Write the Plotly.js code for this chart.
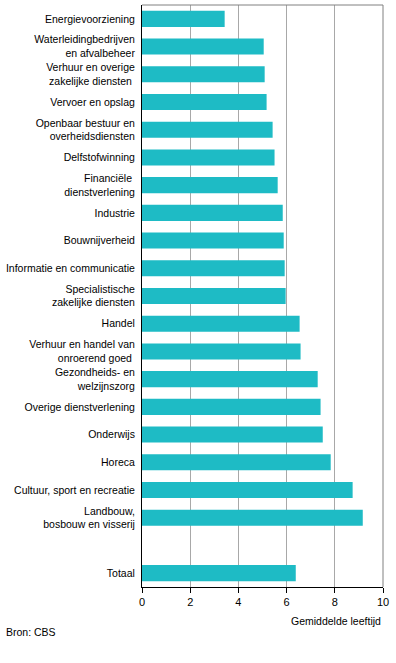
<!DOCTYPE html>
<html><head><meta charset="utf-8">
<script src="https://cdn.plot.ly/plotly-3.0.1.min.js"></script>
<style>html,body{margin:0;padding:0;background:#fff}#chart{width:396px;height:663px}</style>
</head><body><div id="chart"></div>
<script>
const categories = [
  "Energievoorziening",
  "Waterleidingbedrijven<br>en afvalbeheer",
  "Verhuur en overige<br>zakelijke diensten ",
  "Vervoer en opslag",
  "Openbaar bestuur en<br>overheidsdiensten",
  "Delfstofwinning",
  "Financiële <br>dienstverlening",
  "Industrie",
  "Bouwnijverheid",
  "Informatie en communicatie",
  "Specialistische<br>zakelijke diensten",
  "Handel",
  "Verhuur en handel van<br>onroerend goed ",
  "Gezondheids- en<br>welzijnszorg",
  "Overige dienstverlening",
  "Onderwijs",
  "Horeca",
  "Cultuur, sport en recreatie",
  "Landbouw,<br>bosbouw en visserij",
  " ",
  "Totaal"
];
const values = [3.43, 5.05, 5.09, 5.17, 5.42, 5.50, 5.63, 5.84, 5.88, 5.92, 5.96, 6.54, 6.58, 7.29, 7.41, 7.50, 7.83, 8.74, 9.16, null, 6.38];
const xTicks = [0, 2, 4, 6, 8, 10];

const font = {family: "Liberation Sans, Arial, sans-serif", size: 10.5, color: "#000"};

Plotly.newPlot("chart", [{
  type: "bar",
  orientation: "h",
  y: categories,
  x: values,
  width: 0.58,
  marker: {color: "#1ebbc5"},
  hoverinfo: "none"
}], {
  width: 396, height: 663,
  margin: {l: 142, r: 13, t: 5, b: 76},
  paper_bgcolor: "#fff", plot_bgcolor: "#fff",
  font: font,
  showlegend: false,
  xaxis: {
    range: [0, 10], tickvals: xTicks, ticktext: xTicks.map(String),
    showgrid: true, gridcolor: "#a8a8a8", gridwidth: 1,
    zeroline: false, showline: true, linecolor: "#000", linewidth: 1,
    ticks: "outside", ticklen: 5, tickcolor: "#000", tickfont: {family: font.family, size: 11, color: "#000"}
  },
  yaxis: {
    type: "category", categoryorder: "array", categoryarray: categories,
    autorange: "reversed", showgrid: false, zeroline: false,
    showline: true, linecolor: "#000", linewidth: 1, ticks: "", ticklabelstandoff: 4,
    tickfont: font
  },
  shapes: [
    {type: "line", xref: "paper", yref: "paper", x0: 0, x1: 1, y0: 1, y1: 1, line: {color: "#808080", width: 1}},
    {type: "line", xref: "paper", yref: "paper", x0: 1, x1: 1, y0: 0, y1: 1, line: {color: "#808080", width: 1}}
  ],
  annotations: [
    {text: "Gemiddelde leeftijd", xref: "paper", yref: "paper", x: 1, y: 0, xanchor: "right", yanchor: "top", yshift: -26, showarrow: false, font: font},
    {text: "Bron: CBS", xref: "paper", yref: "paper", x: 0, y: 0, xanchor: "left", yanchor: "top", xshift: -138, yshift: -37, showarrow: false, font: font}
  ]
}, {displayModeBar: false, staticPlot: true});
</script></body></html>
